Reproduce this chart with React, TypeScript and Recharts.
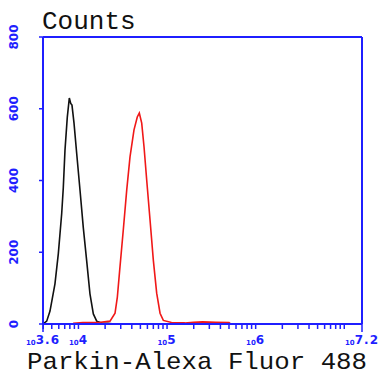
import React from 'react';
import { LineChart, Line, XAxis, YAxis, ReferenceLine } from 'recharts';

// log10 of the fluorescence channel, and event counts
const blackLogX = [3.6, 3.642, 3.679, 3.735, 3.773, 3.811, 3.829, 3.848, 3.874, 3.897, 3.913, 3.927, 3.95, 3.98, 4.018, 4.055, 4.093, 4.13, 4.168, 4.206, 4.263, 4.334, 4.4];
const blackCounts = [0, 8, 36, 112, 196, 308, 380, 484, 576, 630, 615, 610, 560, 476, 372, 268, 176, 84, 28, 8, 3, 2, 0];

const redLogX = [3.94, 4.05, 4.15, 4.25, 4.356, 4.413, 4.439, 4.469, 4.506, 4.545, 4.582, 4.627, 4.664, 4.687, 4.714, 4.74, 4.77, 4.808, 4.845, 4.883, 4.921, 4.958, 5.05, 5.2, 5.3, 5.4, 5.55, 5.7, 5.72];
const redCounts = [2, 4, 4, 5, 8, 30, 75, 160, 262, 374, 466, 541, 577, 588, 560, 494, 402, 290, 178, 86, 30, 10, 4, 3, 5, 6, 5, 4, 0];

const yTicks = [0, 200, 400, 600, 800];
const xLabelTicks = [3.6, 4, 5, 6, 7.2];
const xLabelText = ['3.6', '4', '5', '6', '7.2'];

const minorTicks: number[] = [];
for (let d = 3; d <= 7; d++) {
  for (let k = 1; k <= 9; k++) {
    const v = d + Math.log10(k);
    if (v > 3.6 && v < 7.2) minorTicks.push(v);
  }
}
const xTicks = [3.6, ...minorTicks, 7.2];

const blackData = blackLogX.map((x, i) => ({ x, count: blackCounts[i] }));
const redData = redLogX.map((x, i) => ({ x, count: redCounts[i] }));

const BLUE = '#1f1fff';

function XTick(props: any) {
  const { x, y, payload } = props;
  const v = payload.value;
  const isEnd = v === 3.6 || v === 7.2;
  const idx = xLabelTicks.findIndex((t) => Math.abs(t - v) < 1e-6);
  return (
    <g>
      <line x1={x} y1={y} x2={x} y2={y + (isEnd ? 8 : 5)} stroke={BLUE} strokeWidth={1.5} />
      {idx >= 0 && (
        <text x={x} y={y + 21} textAnchor="middle" fill={BLUE} fontFamily="DejaVu Sans" fontWeight="bold">
          <tspan fontSize={7}>10</tspan>
          <tspan fontSize={12} dy={-1} letterSpacing={1}>{xLabelText[idx]}</tspan>
        </text>
      )}
    </g>
  );
}

function YTick(props: any) {
  const { x, y, payload } = props;
  return (
    <g>
      <line x1={x - 4} y1={y} x2={x} y2={y} stroke={BLUE} strokeWidth={1.5} />
      <text
        x={18}
        y={y}
        transform={`rotate(-90 18 ${y})`}
        textAnchor="middle"
        fill={BLUE}
        fontSize={12}
        fontWeight="bold"
        fontFamily="DejaVu Sans"
      >
        {payload.value}
      </text>
    </g>
  );
}

export default function App() {
  return (
    <div style={{ position: 'absolute', left: 0, top: 0, width: 380, height: 376, background: '#fff' }}>
      <LineChart width={380} height={376} margin={{ top: 37, right: 18, bottom: 0, left: 0 }}>
        <XAxis
          dataKey="x"
          type="number"
          domain={[3.6, 7.2]}
          ticks={xTicks}
          interval={0}
          allowDataOverflow
          height={52}
          tickSize={0}
          tickMargin={0}
          tickLine={false}
          axisLine={{ stroke: BLUE, strokeWidth: 2 }}
          tick={<XTick />}
        />
        <YAxis
          type="number"
          domain={[0, 800]}
          ticks={yTicks}
          interval={0}
          allowDataOverflow
          width={43}
          tickSize={0}
          tickMargin={0}
          tickLine={false}
          axisLine={{ stroke: BLUE, strokeWidth: 2 }}
          tick={<YTick />}
        />
        <ReferenceLine y={800} stroke={BLUE} strokeWidth={2} />
        <ReferenceLine x={7.2} stroke={BLUE} strokeWidth={2} />
        <Line data={blackData} dataKey="count" type="linear" stroke="#111" strokeWidth={1.6} dot={false} isAnimationActive={false} />
        <Line data={redData} dataKey="count" type="linear" stroke="#f01818" strokeWidth={1.6} dot={false} isAnimationActive={false} />
      </LineChart>
      <svg width={380} height={376} style={{ position: 'absolute', left: 0, top: 0, pointerEvents: 'none' }}>
        <text x={42} y={29} fontFamily="Liberation Mono" fontSize={26} fill="#111">Counts</text>
        <text
          x={27}
          y={369}
          fontFamily="Liberation Mono"
          fontSize={24}
          textLength={340}
          lengthAdjust="spacingAndGlyphs"
          fill="#111"
        >
          Parkin-Alexa Fluor 488
        </text>
      </svg>
    </div>
  );
}
